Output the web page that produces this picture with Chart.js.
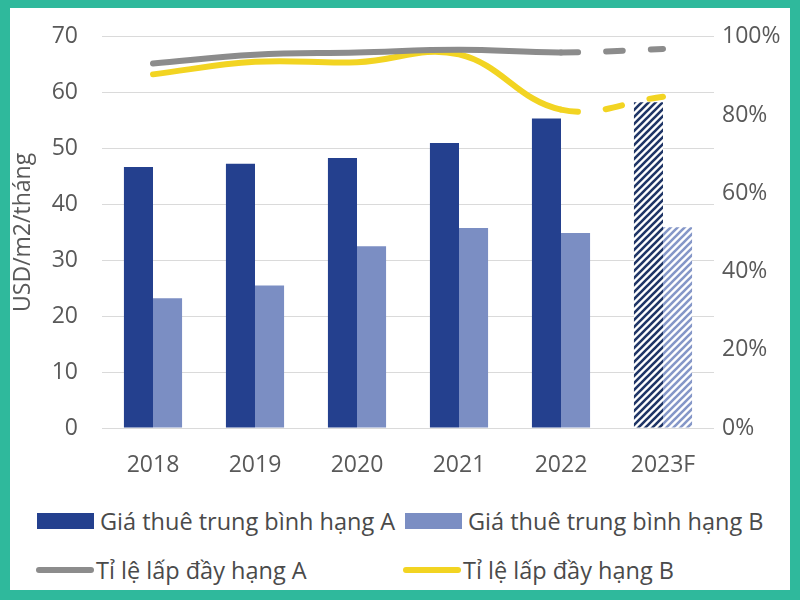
<!DOCTYPE html>
<html>
<head>
<meta charset="utf-8">
<script src="https://cdn.jsdelivr.net/npm/chart.js@4/dist/chart.umd.min.js"></script>
<style>
  html, body { margin: 0; padding: 0; }
  body { width: 800px; height: 600px; background: #2fb99c; position: relative; overflow: hidden; font-family: 'Open Sans', sans-serif; }
  #card { position: absolute; left: 10px; top: 8px; width: 780px; height: 582px; background: #fff; }
  #chartBox { position: absolute; left: 0; top: -9px; width: 780px; height: 481px; }
  .lg-item { position: absolute; display: flex; align-items: center; font-size: 23.5px; color: #4a4a4a; white-space: nowrap; }
  .lg-box { width: 57px; height: 16px; margin-right: 6px; }
  .lg-line { width: 58px; height: 6px; border-radius: 3px; margin-right: 2px; }
</style>
</head>
<body>
<div id="card">
  <div id="chartBox"><canvas id="rentChart"></canvas></div>
</div>
<script>
// --- data ---
const years = ['2018', '2019', '2020', '2021', '2022', '2023F'];
const rentA = [46.7, 47.3, 48.3, 51.0, 55.4, 58.3];
const rentB = [23.2, 25.5, 32.5, 35.8, 34.9, 35.9];
const occA = [93.2, 95.4, 96.0, 96.7, 96.0, 96.9];
const occB = [90.4, 93.6, 93.5, 95.5, 81.4, 84.7];
const leftTicks = [0, 10, 20, 30, 40, 50, 60, 70];
const rightTicks = [0, 20, 40, 60, 80, 100];
const seriesLabels = ['Giá thuê trung bình hạng A', 'Giá thuê trung bình hạng B', 'Tỉ lệ lấp đầy hạng A', 'Tỉ lệ lấp đầy hạng B'];

const darkBlue = '#24408e';
const lightBlue = '#7b8ec3';
const greyLine = '#8c8c8c';
const yellowLine = '#f2d422';
const textGrey = '#595959';
const forecastIdx = years.length - 1;

// diagonal hatch for the forecast bars
function makeHatch(color) {
    const c = document.createElement('canvas');
    c.width = 7; c.height = 7;
    const g = c.getContext('2d');
    g.fillStyle = '#ffffff';
    g.fillRect(0, 0, 7, 7);
    g.strokeStyle = color;
    g.lineWidth = 2.6;
    g.beginPath();
    g.moveTo(-1, 8); g.lineTo(8, -1);
    g.moveTo(-4.5, 4.5); g.lineTo(4.5, -4.5);
    g.moveTo(2.5, 11.5); g.lineTo(11.5, 2.5);
    g.stroke();
    return g.createPattern(c, 'repeat');
}
const hatchDark = makeHatch('#1f3566');
const hatchLight = makeHatch('#8597c8');

const barColors = (solid, hatch) => years.map((y, i) => i === forecastIdx ? hatch : solid);
const dashLast = ctx => ctx.p1DataIndex === forecastIdx ? [17, 28] : undefined;

Chart.defaults.font.family = "'Open Sans', sans-serif";
Chart.defaults.color = textGrey;

new Chart(document.getElementById('rentChart').getContext('2d'), {
    type: 'bar',
    data: {
        labels: years,
        datasets: [
            { type: 'line', label: seriesLabels[2], data: occA, yAxisID: 'yR', borderColor: greyLine, borderWidth: 6, borderCapStyle: 'round', pointRadius: 0, tension: 0.4, order: 0, segment: { borderDash: dashLast } },
            { type: 'line', label: seriesLabels[3], data: occB, yAxisID: 'yR', borderColor: yellowLine, borderWidth: 6, borderCapStyle: 'round', pointRadius: 0, tension: 0.4, order: 0, segment: { borderDash: dashLast } },
            { label: seriesLabels[0], data: rentA, yAxisID: 'y', backgroundColor: barColors(darkBlue, hatchDark), categoryPercentage: 0.57, barPercentage: 1, order: 1 },
            { label: seriesLabels[1], data: rentB, yAxisID: 'y', backgroundColor: barColors(lightBlue, hatchLight), categoryPercentage: 0.57, barPercentage: 1, order: 1 }
        ]
    },
    options: {
        responsive: true, maintainAspectRatio: false, animation: false,
        layout: { padding: 0 },
        plugins: { legend: { display: false }, tooltip: { enabled: false } },
        scales: {
            x: {
                grid: { display: false }, border: { display: false },
                ticks: { color: textGrey, font: { size: 23 }, padding: 16 },
                afterFit: s => { s.height = 52; }
            },
            y: {
                position: 'left', min: 0, max: 70,
                afterBuildTicks: s => { s.ticks = leftTicks.map(v => ({ value: v })); },
                ticks: { color: textGrey, font: { size: 23 }, padding: 24 },
                grid: { color: '#dadada', lineWidth: 1, drawTicks: false },
                border: { display: false },
                title: { display: true, text: 'USD/m2/tháng', color: textGrey, font: { size: 23 }, padding: { top: 0, bottom: 0 } },
                afterFit: s => { s.width = 92; }
            },
            yR: {
                position: 'right', min: 0, max: 100,
                afterBuildTicks: s => { s.ticks = rightTicks.map(v => ({ value: v })); },
                ticks: { color: textGrey, font: { size: 23 }, padding: 8, callback: v => v + '%' },
                grid: { display: false, drawTicks: false },
                border: { display: false },
                afterFit: s => { s.width = 76; }
            }
        }
    }
});

// --- legend (laid out in two columns like the original) ---
const card = document.getElementById('card');
const legendSpots = [
    { x: 27, y: 513, kind: 'box', color: darkBlue },
    { x: 395, y: 513, kind: 'box', color: lightBlue },
    { x: 26, y: 562, kind: 'line', color: greyLine },
    { x: 393, y: 562, kind: 'line', color: yellowLine }
];
legendSpots.forEach((spot, i) => {
    const item = document.createElement('div');
    item.className = 'lg-item';
    item.style.left = spot.x + 'px';
    item.style.top = (spot.y - 8 - 8) + 'px';
    item.style.height = '32px';
    const swatch = document.createElement('span');
    swatch.className = spot.kind === 'box' ? 'lg-box' : 'lg-line';
    swatch.style.background = spot.color;
    const label = document.createElement('span');
    label.textContent = seriesLabels[i];
    item.appendChild(swatch);
    item.appendChild(label);
    card.appendChild(item);
});
</script>
</body>
</html>
